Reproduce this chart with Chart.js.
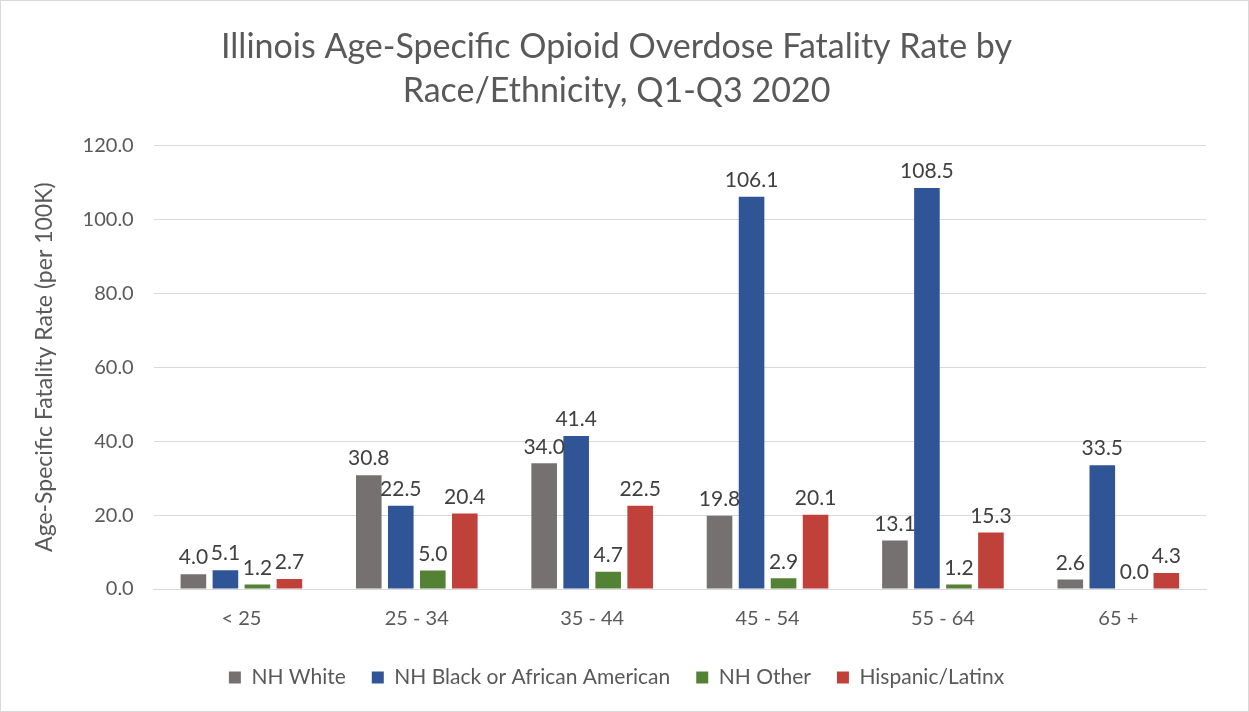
<!DOCTYPE html>
<html>
<head>
<meta charset="utf-8">
<script src="https://cdn.jsdelivr.net/npm/chart.js@4/dist/chart.umd.min.js"></script>
<style>
  html, body { margin: 0; padding: 0; background: #fff; }
  #wrap { width: 1247px; height: 710px; border: 1px solid #d9d9d9; }
</style>
</head>
<body>
<div id="wrap"><canvas id="chart" width="1247" height="710"></canvas></div>
<script>
const ageGroups = ["< 25", "25 - 34", "35 - 44", "45 - 54", "55 - 64", "65 +"]
const nhWhite = [4.0, 30.8, 34.0, 19.8, 13.1, 2.6]
const nhBlack = [5.1, 22.5, 41.4, 106.1, 108.5, 33.5]
const nhOther = [1.2, 5.0, 4.7, 2.9, 1.2, 0.0]
const hispanic = [2.7, 20.4, 22.5, 20.1, 15.3, 4.3]

const fontFamily = "Lato, 'Open Sans', sans-serif"

// draws the value above each bar, like Excel data labels
const barLabels = {
  id: "barLabels",
  afterDatasetsDraw(chart) {
    const ctx = chart.ctx
    ctx.save()
    ctx.font = "21px " + fontFamily
    ctx.fillStyle = "#404040"
    ctx.textAlign = "center"
    ctx.textBaseline = "bottom"
    chart.data.datasets.forEach((ds, i) => {
      chart.getDatasetMeta(i).data.forEach((bar, j) => {
        ctx.fillText(ds.data[j].toFixed(1), bar.x, bar.y - 6)
      })
    })
    ctx.restore()
  }
}

const bar = (label, data, color) => ({
  label: label,
  data: data,
  backgroundColor: color,
  borderWidth: 0,
  barPercentage: 0.8,
  categoryPercentage: 0.73
})

new Chart(document.getElementById("chart").getContext("2d"), {
  type: "bar",
  data: {
    labels: ageGroups,
    datasets: [
      bar("NH White", nhWhite, "#767171"),
      bar("NH Black or African American", nhBlack, "#2f5597"),
      bar("NH Other", nhOther, "#548235"),
      bar("Hispanic/Latinx", hispanic, "#c0403a")
    ]
  },
  options: {
    responsive: false,
    devicePixelRatio: 1,
    animation: false,
    layout: { padding: { left: 26, right: 42, top: 10, bottom: 13 } },
    plugins: {
      title: {
        display: true,
        text: ["Illinois Age-Specific Opioid Overdose Fatality Rate by", "Race/Ethnicity, Q1-Q3 2020"],
        color: "#595959",
        font: { family: fontFamily, size: 34, weight: "normal", lineHeight: 1.3 },
        padding: { top: 14, bottom: 32 }
      },
      legend: {
        position: "bottom",
        labels: {
          color: "#595959",
          font: { family: fontFamily, size: 21 },
          boxWidth: 12,
          boxHeight: 12,
          padding: 26
        }
      },
      tooltip: { enabled: false }
    },
    scales: {
      x: {
        grid: { display: false },
        border: { color: "#d9d9d9" },
        ticks: { color: "#595959", font: { family: fontFamily, size: 20 }, padding: 10 }
      },
      y: {
        min: 0,
        max: 120,
        grid: { color: "#d9d9d9", drawTicks: false },
        border: { display: false },
        ticks: {
          stepSize: 20,
          color: "#595959",
          font: { family: fontFamily, size: 20 },
          padding: 20,
          callback: v => v.toFixed(1)
        },
        title: {
          display: true,
          text: "Age-Specific Fatality Rate (per 100K)",
          color: "#595959",
          font: { family: fontFamily, size: 23 },
          padding: { bottom: 4 }
        }
      }
    }
  },
  plugins: [barLabels]
})
</script>
</body>
</html>
